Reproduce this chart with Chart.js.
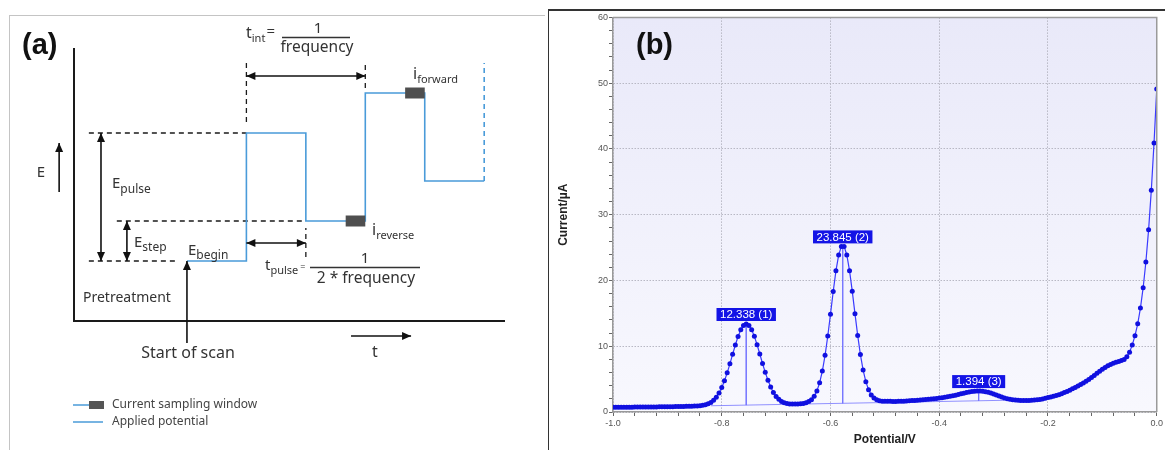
<!DOCTYPE html>
<html>
<head>
<meta charset="utf-8">
<script src="https://cdn.jsdelivr.net/npm/chart.js@4.4.1/dist/chart.umd.min.js"></script>
<style>
  html, body { margin: 0; padding: 0; background: #fff; }
  body { width: 1165px; height: 450px; position: relative; overflow: hidden; }
  #frameA { position: absolute; left: 9px; top: 15px; width: 535px; height: 440px;
            border-left: 1.5px solid #c4c4c4; border-top: 1.5px solid #c4c4c4; }
  #frameB { position: absolute; left: 548px; top: 9px; width: 620px; height: 450px;
            border-left: 1.5px solid #333; border-top: 2px solid #333; }
  #chartA { position: absolute; left: 0; top: 0; }
  #chartB { position: absolute; left: 550px; top: 11px; }
</style>
</head>
<body>
<div id="frameA"></div>
<div id="frameB"></div>
<canvas id="chartA" width="546" height="450"></canvas>
<canvas id="chartB" width="615" height="439"></canvas>
<script>
// ---- panel (a): square wave staircase (schematic units) ----
const stepTimes = [1.9, 2.9, 3.9, 4.9, 5.9, 6.9];
const stepLevels = [60, 188, 100, 228, 140];
const nextLevelTop = 258;
const windowStarts = [4.57, 5.57];
const windowEnds = [4.9, 5.9];
const windowLevels = [100, 228];
const guideLevels = [188, 100, 60];
const guideStarts = [0.25, 0.72, 0.25];
const guideEnds = [2.9, 3.9, 1.73];
const markerTimes = [2.9, 4.9, 3.9];
const markerFrom = [199, 233, 64];
const markerTo = [258, 258, 93];

// ---- panel (b): voltammogram ----
const potentials = [
  -1.000, -0.995, -0.990, -0.985, -0.980, -0.975, -0.970, -0.965, -0.960, -0.955,
  -0.950, -0.945, -0.940, -0.935, -0.930, -0.925, -0.920, -0.915, -0.910, -0.905,
  -0.900, -0.895, -0.890, -0.885, -0.880, -0.875, -0.870, -0.865, -0.860, -0.855,
  -0.850, -0.845, -0.840, -0.835, -0.830, -0.825, -0.820, -0.815, -0.810, -0.805,
  -0.800, -0.795, -0.790, -0.785, -0.780, -0.775, -0.770, -0.765, -0.760, -0.755,
  -0.750, -0.745, -0.740, -0.735, -0.730, -0.725, -0.720, -0.715, -0.710, -0.705,
  -0.700, -0.695, -0.690, -0.685, -0.680, -0.675, -0.670, -0.665, -0.660, -0.655,
  -0.650, -0.645, -0.640, -0.635, -0.630, -0.625, -0.620, -0.615, -0.610, -0.605,
  -0.600, -0.595, -0.590, -0.585, -0.580, -0.575, -0.570, -0.565, -0.560, -0.555,
  -0.550, -0.545, -0.540, -0.535, -0.530, -0.525, -0.520, -0.515, -0.510, -0.505,
  -0.500, -0.495, -0.490, -0.485, -0.480, -0.475, -0.470, -0.465, -0.460, -0.455,
  -0.450, -0.445, -0.440, -0.435, -0.430, -0.425, -0.420, -0.415, -0.410, -0.405,
  -0.400, -0.395, -0.390, -0.385, -0.380, -0.375, -0.370, -0.365, -0.360, -0.355,
  -0.350, -0.345, -0.340, -0.335, -0.330, -0.325, -0.320, -0.315, -0.310, -0.305,
  -0.300, -0.295, -0.290, -0.285, -0.280, -0.275, -0.270, -0.265, -0.260, -0.255,
  -0.250, -0.245, -0.240, -0.235, -0.230, -0.225, -0.220, -0.215, -0.210, -0.205,
  -0.200, -0.195, -0.190, -0.185, -0.180, -0.175, -0.170, -0.165, -0.160, -0.155,
  -0.150, -0.145, -0.140, -0.135, -0.130, -0.125, -0.120, -0.115, -0.110, -0.105,
  -0.100, -0.095, -0.090, -0.085, -0.080, -0.075, -0.070, -0.065, -0.060, -0.055,
  -0.050, -0.045, -0.040, -0.035, -0.030, -0.025, -0.020, -0.015, -0.010, -0.005,
  0.000
];
const currents = [
  0.72, 0.72, 0.73, 0.73, 0.73, 0.74, 0.74, 0.74, 0.75, 0.75,
  0.75, 0.76, 0.76, 0.76, 0.77, 0.77, 0.77, 0.78, 0.78, 0.79,
  0.79, 0.80, 0.81, 0.82, 0.83, 0.84, 0.85, 0.86, 0.87, 0.89,
  0.90, 0.92, 0.96, 1.01, 1.10, 1.24, 1.46, 1.79, 2.25, 2.88,
  3.71, 4.74, 5.96, 7.32, 8.77, 10.18, 11.47, 12.49, 13.15, 13.38,
  13.16, 12.51, 11.50, 10.22, 8.82, 7.38, 6.03, 4.82, 3.80, 2.98,
  2.37, 1.93, 1.61, 1.41, 1.29, 1.23, 1.21, 1.20, 1.22, 1.24,
  1.30, 1.40, 1.58, 1.87, 2.38, 3.20, 4.45, 6.23, 8.62, 11.55,
  14.88, 18.32, 21.46, 23.86, 25.18, 25.18, 23.88, 21.49, 18.37, 14.95,
  11.64, 8.73, 6.37, 4.61, 3.39, 2.60, 2.12, 1.86, 1.72, 1.65,
  1.64, 1.63, 1.62, 1.61, 1.61, 1.62, 1.63, 1.65, 1.67, 1.70,
  1.73, 1.76, 1.79, 1.83, 1.87, 1.91, 1.95, 1.99, 2.03, 2.07,
  2.12, 2.17, 2.23, 2.30, 2.38, 2.47, 2.56, 2.66, 2.76, 2.86,
  2.95, 3.03, 3.10, 3.15, 3.18, 3.18, 3.15, 3.09, 3.00, 2.88,
  2.74, 2.58, 2.42, 2.27, 2.13, 2.02, 1.93, 1.86, 1.81, 1.78,
  1.76, 1.74, 1.74, 1.75, 1.78, 1.81, 1.85, 1.91, 1.98, 2.08,
  2.20, 2.28, 2.38, 2.50, 2.63, 2.78, 2.95, 3.13, 3.32, 3.52,
  3.73, 3.95, 4.18, 4.42, 4.68, 4.95, 5.25, 5.56, 5.88, 6.20,
  6.50, 6.78, 7.02, 7.22, 7.40, 7.55, 7.68, 7.82, 8.00, 8.40,
  9.10, 10.2, 11.6, 13.4, 15.8, 18.9, 22.8, 27.7, 33.7, 40.9,
  49.1
];
const peakPotentials = [-0.755, -0.5775, -0.3275];
const peakCurrents = [13.38, 25.18, 3.18];
const peakBaseCurrents = [1.05, 1.32, 1.71];
const peakLabels = ['12.338 (1)', '23.845 (2)', '1.394 (3)'];
const baselinePotentials = [-0.82, -0.28];
const baselineCurrents = [0.95, 1.78];

const BLUE_A = '#4a9bd9';
const INK = '#333';
const SANS = '"Noto Sans", sans-serif';
const ARIAL = 'Arial, "Liberation Sans", sans-serif';

function arrow(ctx, x1, y1, x2, y2, both) {
  const head = (xa, ya, xb, yb) => {
    const a = Math.atan2(yb - ya, xb - xa);
    const c = Math.cos(a), s = Math.sin(a);
    ctx.beginPath();
    ctx.moveTo(xb, yb);
    ctx.lineTo(xb - 9 * c + 4 * s, yb - 9 * s - 4 * c);
    ctx.lineTo(xb - 9 * c - 4 * s, yb - 9 * s + 4 * c);
    ctx.closePath();
    ctx.fill();
  };
  ctx.beginPath();
  ctx.moveTo(x1, y1);
  ctx.lineTo(x2, y2);
  ctx.stroke();
  head(x1, y1, x2, y2);
  if (both) head(x2, y2, x1, y1);
}

function subText(ctx, main, small, x, y, size, subSize, drop) {
  ctx.font = size + 'px ' + SANS;
  ctx.fillText(main, x, y);
  const w = ctx.measureText(main).width;
  ctx.font = subSize + 'px ' + SANS;
  ctx.fillText(small, x + w, y + drop);
  return x + w + ctx.measureText(small).width;
}

const diagramPlugin = {
  id: 'diagram',
  afterDraw(chart) {
    const { ctx, chartArea: a, scales: { x, y } } = chart;
    const X = v => x.getPixelForValue(v);
    const Y = v => y.getPixelForValue(v);
    ctx.save();

    // axes
    ctx.strokeStyle = '#1a1a1a';
    ctx.lineWidth = 2;
    ctx.beginPath();
    ctx.moveTo(a.left, a.top);
    ctx.lineTo(a.left, a.bottom);
    ctx.lineTo(a.right, a.bottom);
    ctx.stroke();

    // arrows
    ctx.lineWidth = 1.6;
    ctx.fillStyle = '#111';
    ctx.strokeStyle = '#111';
    arrow(ctx, X(0.454), Y(stepLevels[0]), X(0.454), Y(stepLevels[1]), true);
    arrow(ctx, X(0.89), Y(stepLevels[0]), X(0.89), Y(stepLevels[2]), true);
    arrow(ctx, X(stepTimes[1]), Y(245), X(stepTimes[3]), Y(245), true);
    arrow(ctx, X(stepTimes[1]), Y(78), X(stepTimes[2]), Y(78), true);
    arrow(ctx, X(stepTimes[0]), Y(-22), X(stepTimes[0]), Y(stepLevels[0]), false);
    arrow(ctx, X(-0.25), Y(129), X(-0.25), Y(178), false);
    arrow(ctx, X(4.66), Y(-15), X(5.67), Y(-15), false);

    // labels
    ctx.fillStyle = '#111';
    ctx.font = 'bold 29px ' + ARIAL;
    ctx.textAlign = 'left';
    ctx.textBaseline = 'alphabetic';
    ctx.fillText('(a)', 22, 54);

    ctx.fillStyle = INK;
    ctx.font = '15px ' + SANS;
    ctx.textAlign = 'center';
    ctx.fillText('E', 41, 177);
    ctx.textAlign = 'left';
    subText(ctx, 'E', 'pulse', 112, 188, 15, 12, 5);
    subText(ctx, 'E', 'step', 134, 247, 15, 12, 4);
    subText(ctx, 'E', 'begin', 188, 255, 15, 12, 4);
    subText(ctx, 'i', 'reverse', 372, 235, 16, 11, 4);
    subText(ctx, 'i', 'forward', 413, 79, 16, 11, 4);

    // t_int = 1 / frequency
    let end = subText(ctx, 't', 'int', 246, 38, 16, 11, 4);
    ctx.font = '15px ' + SANS;
    ctx.fillText('=', end + 1, 36);
    ctx.textAlign = 'center';
    ctx.fillText('1', 318, 33);
    ctx.font = '15.5px ' + SANS;
    ctx.fillText('frequency', 317, 52);
    ctx.lineWidth = 1.3;
    ctx.strokeStyle = INK;
    ctx.beginPath(); ctx.moveTo(282, 37.5); ctx.lineTo(350, 37.5); ctx.stroke();

    // t_pulse = 1 / (2 * frequency)
    ctx.textAlign = 'left';
    end = subText(ctx, 't', 'pulse', 265, 270, 15, 11, 4);
    ctx.font = '9px ' + SANS;
    ctx.fillText('=', end + 2, 270);
    ctx.textAlign = 'center';
    ctx.font = '15px ' + SANS;
    ctx.fillText('1', 365, 263);
    ctx.font = '15.5px ' + SANS;
    ctx.fillText('2 * frequency', 366, 283);
    ctx.beginPath(); ctx.moveTo(310, 267.5); ctx.lineTo(420, 267.5); ctx.stroke();

    ctx.textAlign = 'left';
    ctx.font = '14px ' + SANS;
    ctx.fillText('Pretreatment', 83, 302);
    ctx.textAlign = 'center';
    ctx.font = '16px ' + SANS;
    ctx.fillText('Start of scan', 188, 358);
    ctx.fillText('t', 375, 357);

    // legend
    ctx.strokeStyle = BLUE_A;
    ctx.lineWidth = 1.5;
    ctx.beginPath(); ctx.moveTo(73, 405); ctx.lineTo(103, 405); ctx.stroke();
    ctx.beginPath(); ctx.moveTo(73, 422); ctx.lineTo(103, 422); ctx.stroke();
    ctx.fillStyle = '#555';
    ctx.fillRect(89, 401, 15, 8);
    ctx.fillStyle = '#444';
    ctx.textAlign = 'left';
    ctx.textBaseline = 'middle';
    ctx.font = '12px ' + SANS;
    ctx.fillText('Current sampling window', 112, 405);
    ctx.fillText('Applied potential', 112, 422);
    ctx.restore();
  }
};

const waveData = [];
stepLevels.forEach((lvl, i) => {
  waveData.push({ x: stepTimes[i], y: lvl }, { x: stepTimes[i + 1], y: lvl });
});

const datasetsA = [];
windowLevels.forEach((lvl, i) => {
  datasetsA.push({
    data: [{ x: windowStarts[i], y: lvl }, { x: windowEnds[i], y: lvl }],
    borderColor: '#4f4f4f', borderWidth: 11, borderCapStyle: 'butt'
  });
});
datasetsA.push({ data: waveData, borderColor: BLUE_A, borderWidth: 1.6 });
datasetsA.push({
  data: [{ x: stepTimes[5], y: stepLevels[4] }, { x: stepTimes[5], y: nextLevelTop }],
  borderColor: BLUE_A, borderWidth: 1.6, borderDash: [5, 4]
});
guideLevels.forEach((lvl, i) => {
  datasetsA.push({
    data: [{ x: guideStarts[i], y: lvl }, { x: guideEnds[i], y: lvl }],
    borderColor: '#1a1a1a', borderWidth: 1.3, borderDash: [5, 4]
  });
});
markerTimes.forEach((t, i) => {
  datasetsA.push({
    data: [{ x: t, y: markerFrom[i] }, { x: t, y: markerTo[i] }],
    borderColor: '#1a1a1a', borderWidth: 1.3, borderDash: [5, 4]
  });
});

new Chart(document.getElementById('chartA'), {
  type: 'line',
  data: { datasets: datasetsA },
  options: {
    responsive: false,
    animation: false,
    layout: { padding: { left: 74, top: 48, right: 41, bottom: 129 } },
    plugins: { legend: { display: false }, tooltip: { enabled: false } },
    elements: { point: { radius: 0 }, line: { tension: 0 } },
    scales: {
      x: { type: 'linear', display: false, min: 0, max: 7.25 },
      y: { type: 'linear', display: false, min: 0, max: 273 }
    }
  },
  plugins: [diagramPlugin]
});

// ---- panel (b) ----
const isMajorX = v => Math.abs(v / 0.2 - Math.round(v / 0.2)) < 1e-6;
const isMajorY = v => Math.abs(v / 10 - Math.round(v / 10)) < 1e-6;

const plotPlugin = {
  id: 'plotDecor',
  beforeDraw(chart) {
    const { ctx, chartArea: a } = chart;
    const g = ctx.createLinearGradient(0, a.top, 0, a.bottom);
    g.addColorStop(0, '#e9e9f9');
    g.addColorStop(1, '#f8f8fe');
    ctx.save();
    ctx.fillStyle = g;
    ctx.fillRect(a.left, a.top, a.right - a.left, a.bottom - a.top);
    ctx.restore();
  },
  afterDraw(chart) {
    const { ctx, chartArea: a, scales: { x, y } } = chart;
    ctx.save();
    ctx.strokeStyle = '#9a9a9a';
    ctx.lineWidth = 1.5;
    ctx.beginPath();
    ctx.moveTo(a.left, a.top);
    ctx.lineTo(a.right, a.top);
    ctx.lineTo(a.right, a.bottom);
    ctx.stroke();

    // peak labels
    ctx.font = '11.5px ' + ARIAL;
    ctx.textAlign = 'center';
    ctx.textBaseline = 'middle';
    peakLabels.forEach((txt, i) => {
      const px = x.getPixelForValue(peakPotentials[i]);
      const py = y.getPixelForValue(peakCurrents[i]);
      const w = ctx.measureText(txt).width + 7;
      const h = 13;
      ctx.fillStyle = '#1414e6';
      ctx.fillRect(px - w / 2, py - 3 - h, w, h);
      ctx.fillStyle = '#fff';
      ctx.fillText(txt, px, py - 3 - h / 2 + 0.5);
    });

    ctx.fillStyle = '#111';
    ctx.font = 'bold 29px ' + ARIAL;
    ctx.textAlign = 'left';
    ctx.textBaseline = 'alphabetic';
    ctx.fillText('(b)', 86, 43);
    ctx.restore();
  }
};

const datasetsB = [{
  data: potentials.map((p, i) => ({ x: p, y: currents[i] })),
  borderColor: '#3a3aff',
  borderWidth: 1.2,
  pointRadius: 2.5,
  pointBackgroundColor: '#1010e0',
  pointBorderWidth: 0
}, {
  data: baselinePotentials.map((p, i) => ({ x: p, y: baselineCurrents[i] })),
  borderColor: 'rgba(110,110,255,0.75)',
  borderWidth: 1,
  pointRadius: 0
}];
peakPotentials.forEach((p, i) => {
  datasetsB.push({
    data: [{ x: p, y: peakCurrents[i] }, { x: p, y: peakBaseCurrents[i] }],
    borderColor: 'rgba(110,110,255,0.75)',
    borderWidth: 1,
    pointRadius: 0
  });
});

new Chart(document.getElementById('chartB'), {
  type: 'line',
  data: { datasets: datasetsB },
  options: {
    responsive: false,
    animation: false,
    layout: { padding: { left: 0, top: 4, right: 5, bottom: 0 } },
    plugins: { legend: { display: false }, tooltip: { enabled: false } },
    elements: { line: { tension: 0 } },
    scales: {
      x: {
        type: 'linear', min: -1, max: 0,
        afterFit: s => { s.height = 38; },
        ticks: {
          stepSize: 0.04, autoSkip: false, maxRotation: 0, padding: 2,
          color: '#555', font: { size: 9, family: ARIAL },
          callback: v => isMajorX(v) ? v.toFixed(1) : ''
        },
        grid: {
          color: c => isMajorX(c.tick.value) ? '#b8b8c4' : 'rgba(0,0,0,0)',
          tickColor: '#666', tickLength: 4, lineWidth: 1
        },
        border: { color: '#999', width: 1.5, dash: [1.5, 1.5] },
        title: {
          display: true, text: 'Potential/V', color: '#222',
          font: { size: 12, weight: 'bold', family: ARIAL },
          padding: { top: 0, bottom: 3 }
        }
      },
      y: {
        type: 'linear', min: 0, max: 60,
        afterFit: s => { s.width = 63; },
        ticks: {
          stepSize: 2, autoSkip: false, padding: 1,
          color: '#555', font: { size: 9, family: ARIAL },
          callback: v => isMajorY(v) ? String(v) : ''
        },
        grid: {
          color: c => isMajorY(c.tick.value) ? '#b8b8c4' : 'rgba(0,0,0,0)',
          tickColor: '#666', tickLength: 4, lineWidth: 1
        },
        border: { color: '#999', width: 1.5, dash: [1.5, 1.5] },
        title: {
          display: true, text: 'Current/µA', color: '#222',
          font: { size: 12, weight: 'bold', family: ARIAL },
          padding: { top: 6, bottom: 0 }
        }
      }
    }
  },
  plugins: [plotPlugin]
});
</script>
</body>
</html>
